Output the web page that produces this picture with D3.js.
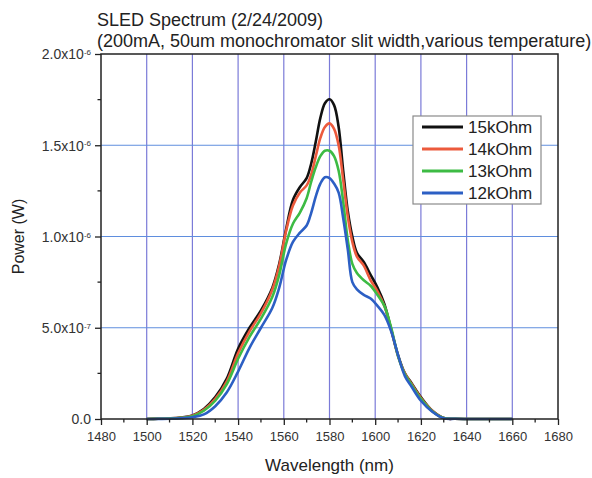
<!DOCTYPE html>
<html>
<head>
<meta charset="utf-8">
<script src="https://cdn.jsdelivr.net/npm/d3@7"></script>
<style>
  html, body { margin: 0; padding: 0; background: #fff; }
  svg { display: block; font-family: Arial, "Liberation Sans", sans-serif; }
</style>
</head>
<body>
<div id="chart"></div>
<script>
// wavelength grid (nm)
const wavelength = [1500, 1505, 1510, 1515, 1520, 1525, 1530, 1535, 1540, 1545, 1550, 1555, 1558, 1561,
  1564, 1567, 1570, 1572, 1574, 1576, 1578, 1580, 1582, 1584, 1586, 1588, 1590, 1592, 1595, 1598,
  1601, 1604, 1607, 1610, 1613, 1616, 1620, 1625, 1630, 1635, 1640, 1650, 1660];

// power, in units of 1e-6 W
const p15k = [0, 0.001, 0.003, 0.008, 0.02, 0.055, 0.12, 0.22, 0.385, 0.5, 0.595, 0.72, 0.85, 1.04,
  1.2, 1.27, 1.32, 1.4, 1.52, 1.65, 1.73, 1.752, 1.72, 1.6, 1.36, 1.14, 1.0, 0.91, 0.86, 0.79,
  0.72, 0.63, 0.49, 0.35, 0.25, 0.195, 0.12, 0.045, 0.005, 0.001, 0, 0, 0];
const p14k = [0, 0.001, 0.003, 0.007, 0.018, 0.05, 0.11, 0.205, 0.36, 0.48, 0.58, 0.71, 0.84, 1.03,
  1.17, 1.24, 1.28, 1.34, 1.44, 1.54, 1.6, 1.62, 1.59, 1.5, 1.31, 1.11, 0.97, 0.89, 0.84, 0.76,
  0.7, 0.62, 0.49, 0.345, 0.25, 0.19, 0.115, 0.045, 0.005, 0.001, 0, 0, 0];
const p13k = [0, 0.001, 0.002, 0.006, 0.015, 0.045, 0.1, 0.19, 0.33, 0.45, 0.55, 0.67, 0.79, 0.96,
  1.07, 1.13, 1.21, 1.3, 1.38, 1.44, 1.47, 1.47, 1.44, 1.36, 1.19, 0.98, 0.85, 0.8, 0.76, 0.73,
  0.68, 0.62, 0.5, 0.345, 0.245, 0.185, 0.11, 0.042, 0.005, 0.001, 0, 0, 0];
const p12k = [0, 0.0005, 0.001, 0.004, 0.01, 0.025, 0.07, 0.145, 0.26, 0.39, 0.5, 0.61, 0.72, 0.87,
  0.97, 1.02, 1.06, 1.13, 1.22, 1.29, 1.325, 1.32, 1.29, 1.24, 1.1, 0.93, 0.75, 0.71, 0.68, 0.66,
  0.62, 0.57, 0.48, 0.35, 0.235, 0.175, 0.1, 0.04, 0.004, 0.001, 0, 0, 0];

const seriesNames = ['15kOhm', '14kOhm', '13kOhm', '12kOhm'];
const seriesValues = [p15k, p14k, p13k, p12k];
const seriesColors = ['#111111', '#ec5a3c', '#3dbb44', '#2c5fc4'];

const xTicks = d3.range(1480, 1681, 20);
const yTicks = [0, 0.5, 1.0, 1.5, 2.0];

const titleLines = ['SLED Spectrum (2/24/2009)',
  '(200mA, 50um monochromator slit width,various temperature)'];

const width = 592, height = 478;
const margin = {top: 54, right: 34, bottom: 59, left: 101};

const svg = d3.select('#chart').append('svg')
  .attr('width', width)
  .attr('height', height)
  .attr('viewBox', [0, 0, width, height]);

const x = d3.scaleLinear()
  .domain([1480, 1680])
  .range([margin.left, width - margin.right]);

const y = d3.scaleLinear()
  .domain([0, 2])
  .range([height - margin.bottom, margin.top]);

const data = seriesNames.map((name, i) => ({
  name,
  color: seriesColors[i],
  points: wavelength.map((w, j) => ({w, p: seriesValues[i][j]}))
}));

// grid
const grid = svg.append('g')
  .attr('stroke', '#7b7bd8')
  .attr('stroke-width', 1.2);

grid.selectAll('line.v')
  .data(xTicks.slice(1, -1))
  .join('line')
  .attr('class', 'v')
  .attr('x1', d => x(d)).attr('x2', d => x(d))
  .attr('y1', y(2)).attr('y2', y(0));

grid.selectAll('line.h')
  .data(yTicks.slice(1, -1))
  .join('line')
  .attr('class', 'h')
  .attr('stroke', '#5f8ede')
  .attr('x1', x(1480)).attr('x2', x(1680))
  .attr('y1', d => y(d)).attr('y2', d => y(d));

// curves
const line = d3.line()
  .x(d => x(d.w))
  .y(d => y(d.p))
  .curve(d3.curveCatmullRom.alpha(0.5));

svg.append('g')
  .attr('fill', 'none')
  .attr('stroke-width', 2.6)
  .attr('stroke-linejoin', 'round')
  .selectAll('path')
  .data(data)
  .join('path')
  .attr('stroke', d => d.color)
  .attr('d', d => line(d.points));

// frame
svg.append('rect')
  .attr('x', x(1480))
  .attr('y', y(2))
  .attr('width', x(1680) - x(1480))
  .attr('height', y(0) - y(2))
  .attr('fill', 'none')
  .attr('stroke', '#222')
  .attr('stroke-width', 1.5);

// x axis
const xAxis = svg.append('g')
  .attr('transform', `translate(0,${y(0)})`)
  .call(d3.axisBottom(x).tickValues(xTicks).tickSize(6).tickPadding(7).tickFormat(d3.format('d')))
  .call(g => g.select('.domain').remove());

xAxis.selectAll('.tick line').attr('stroke', '#222').attr('stroke-width', 1.3);
xAxis.selectAll('.tick text')
  .attr('fill', '#333')
  .style('font-size', '13px')
  .style('font-family', 'Arial, "Liberation Sans", sans-serif');

svg.append('g')
  .selectAll('line')
  .data(d3.range(1490, 1680, 20))
  .join('line')
  .attr('x1', d => x(d)).attr('x2', d => x(d))
  .attr('y1', y(0)).attr('y2', y(0) + 3.5)
  .attr('stroke', '#222')
  .attr('stroke-width', 1.3);

// y axis
function superLabel(v) {
  if (v === 0) return {base: '0.0', exp: ''};
  const w = v * 1e-6;
  const e = Math.floor(Math.log10(w) + 1e-9);
  const m = w / Math.pow(10, e);
  return {base: `${m.toFixed(1)}x10`, exp: `${e}`};
}

const yAxis = svg.append('g')
  .attr('transform', `translate(${x(1480)},0)`)
  .call(d3.axisLeft(y).tickValues(yTicks).tickSize(6).tickFormat(''))
  .call(g => g.select('.domain').remove());

yAxis.selectAll('.tick line').attr('stroke', '#222').attr('stroke-width', 1.3);

yAxis.selectAll('.tick')
  .append('text')
  .attr('x', -10)
  .attr('dy', '0.35em')
  .attr('text-anchor', 'end')
  .attr('fill', '#333')
  .style('font-size', '14px')
  .each(function(d) {
    const lab = superLabel(d);
    const t = d3.select(this);
    t.append('tspan').text(lab.base);
    if (lab.exp) {
      t.append('tspan')
        .attr('dy', '-0.55em')
        .style('font-size', '8px')
        .text(lab.exp);
    }
  });

svg.append('g')
  .selectAll('line')
  .data([0.25, 0.75, 1.25, 1.75])
  .join('line')
  .attr('x1', x(1480) - 3.5).attr('x2', x(1480))
  .attr('y1', d => y(d)).attr('y2', d => y(d))
  .attr('stroke', '#222')
  .attr('stroke-width', 1.3);

// axis titles
svg.append('text')
  .attr('transform', `translate(24,${(y(0) + y(2)) / 2}) rotate(-90)`)
  .attr('text-anchor', 'middle')
  .attr('fill', '#222')
  .style('font-size', '16px')
  .text('Power (W)');

svg.append('text')
  .attr('x', (x(1480) + x(1680)) / 2)
  .attr('y', 471)
  .attr('text-anchor', 'middle')
  .attr('fill', '#222')
  .style('font-size', '17px')
  .text('Wavelength (nm)');

// title
svg.append('g')
  .selectAll('text')
  .data(titleLines)
  .join('text')
  .attr('x', 97)
  .attr('y', (d, i) => 26 + i * 21)
  .attr('fill', '#222')
  .style('font-size', '18px')
  .text(d => d);

// legend
const legend = svg.append('g')
  .attr('transform', 'translate(413,116)');

legend.append('rect')
  .attr('width', 128)
  .attr('height', 88)
  .attr('fill', '#fff')
  .attr('stroke', '#8a8a8a')
  .attr('stroke-width', 1.2);

const item = legend.selectAll('g')
  .data(data)
  .join('g')
  .attr('transform', (d, i) => `translate(0,${11 + i * 22})`);

item.append('line')
  .attr('x1', 9).attr('x2', 50)
  .attr('stroke', d => d.color)
  .attr('stroke-width', 3);

item.append('text')
  .attr('x', 55)
  .attr('dy', '0.35em')
  .attr('fill', '#222')
  .style('font-size', '17px')
  .text(d => d.name);
</script>
</body>
</html>
